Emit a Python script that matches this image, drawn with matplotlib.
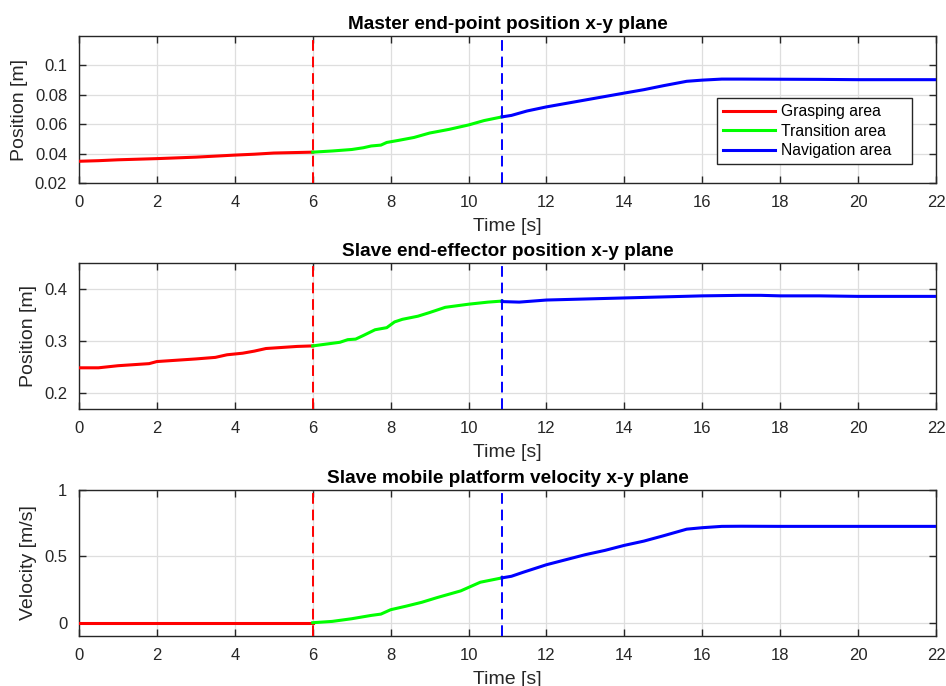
#!/usr/bin/env python3
"""Master / slave x-y plane trajectories split into grasping, transition and navigation areas."""

import matplotlib
matplotlib.use("Agg")
import matplotlib.pyplot as plt

plt.rcParams["font.family"] = ["Liberation Sans", "DejaVu Sans"]

T_SWITCH1 = 6.0
T_SWITCH2 = 10.86

# --- master end-point position ---
t1_grasp = [0, 0.5, 1, 2, 3, 4, 4.5, 5, 5.5, 6]
p1_grasp = [0.0348, 0.0352, 0.0358, 0.0366, 0.0376, 0.0390, 0.0396, 0.0404, 0.0407, 0.0410]
t1_trans = [6, 6.5, 7, 7.3, 7.5, 7.75, 7.9, 8.2, 8.6, 9, 9.5, 10, 10.4, 10.86]
p1_trans = [0.0410, 0.0418, 0.0428, 0.0440, 0.0452, 0.0458, 0.0476, 0.0490, 0.0510, 0.0540, 0.0565, 0.0595, 0.0625, 0.0650]
t1_nav = [10.86, 11.1, 11.5, 12, 13, 14, 14.5, 15, 15.6, 16, 16.5, 17, 18, 19, 20, 22]
p1_nav = [0.0650, 0.0660, 0.0690, 0.0718, 0.0765, 0.0812, 0.0835, 0.0862, 0.0892, 0.0900, 0.0907, 0.0907, 0.0906, 0.0905, 0.0903, 0.0903]

# --- slave end-effector position ---
t2_grasp = [0, 0.5, 1, 1.8, 2, 3, 3.5, 3.8, 4.2, 4.5, 4.8, 5.2, 5.6, 6]
p2_grasp = [0.249, 0.249, 0.253, 0.257, 0.261, 0.266, 0.269, 0.274, 0.277, 0.281, 0.286, 0.288, 0.290, 0.291]
t2_trans = [6, 6.7, 6.9, 7.1, 7.3, 7.6, 7.9, 8.1, 8.3, 8.7, 9, 9.4, 10, 10.5, 10.86]
p2_trans = [0.291, 0.298, 0.303, 0.304, 0.311, 0.322, 0.326, 0.337, 0.342, 0.348, 0.355, 0.365, 0.371, 0.375, 0.377]
t2_nav = [10.86, 11.3, 12, 13, 14, 15, 16, 17, 17.5, 18, 19, 20, 22]
p2_nav = [0.376, 0.375, 0.379, 0.381, 0.383, 0.385, 0.387, 0.388, 0.388, 0.387, 0.387, 0.386, 0.386]

# --- slave mobile platform velocity ---
t3_grasp = [0, 2, 4, 6]
v3_grasp = [0.0, 0.0, 0.0, 0.0]
t3_trans = [6, 6.5, 7, 7.5, 7.75, 8, 8.4, 8.8, 9.2, 9.8, 10.3, 10.86]
v3_trans = [0.0, 0.01, 0.03, 0.055, 0.065, 0.098, 0.125, 0.154, 0.19, 0.24, 0.305, 0.338]
t3_nav = [10.86, 11.1, 11.4, 12, 12.5, 13, 13.5, 14, 14.5, 15, 15.6, 16, 16.5, 17, 18, 20, 22]
v3_nav = [0.338, 0.350, 0.380, 0.437, 0.475, 0.513, 0.545, 0.583, 0.615, 0.655, 0.705, 0.716, 0.726, 0.727, 0.726, 0.726, 0.726]

LEGEND = ["Grasping area", "Transition area", "Navigation area"]
COLORS = ["#ff0000", "#00ff00", "#0000ff"]

panels = [
    dict(title="Master end-point position x-y plane", ylabel="Position [m]",
         segs=[(t1_grasp, p1_grasp), (t1_trans, p1_trans), (t1_nav, p1_nav)],
         ylim=(0.02, 0.12), yticks=[0.02, 0.04, 0.06, 0.08, 0.1],
         yticklabels=["0.02", "0.04", "0.06", "0.08", "0.1"],
         rect=[0.0835, 0.7332, 0.906, 0.2143]),
    dict(title="Slave end-effector position x-y plane", ylabel="Position [m]",
         segs=[(t2_grasp, p2_grasp), (t2_trans, p2_trans), (t2_nav, p2_nav)],
         ylim=(0.17, 0.45), yticks=[0.2, 0.3, 0.4],
         yticklabels=["0.2", "0.3", "0.4"],
         rect=[0.0835, 0.4038, 0.906, 0.2128]),
    dict(title="Slave mobile platform velocity x-y plane", ylabel="Velocity [m/s]",
         segs=[(t3_grasp, v3_grasp), (t3_trans, v3_trans), (t3_nav, v3_nav)],
         ylim=(-0.1, 1.0), yticks=[0, 0.5, 1],
         yticklabels=["0", "0.5", "1"],
         rect=[0.0835, 0.0729, 0.906, 0.2128]),
]

fig = plt.figure(figsize=(9.46, 6.86), dpi=100)

for i, p in enumerate(panels):
    ax = fig.add_axes(p["rect"])
    handles = []
    for (t, v), c, lab in zip(p["segs"], COLORS, LEGEND):
        h, = ax.plot(t, v, color=c, lw=2.2, label=lab, zorder=3)
        handles.append(h)
    ax.axvline(T_SWITCH1, color=COLORS[0], lw=1.4, ls=(0, (5.5, 3)), zorder=4)
    ax.axvline(T_SWITCH2, color=COLORS[2], lw=1.4, ls=(0, (5.5, 3)), zorder=4)

    ax.set_xlim(0, 22)
    ax.set_ylim(*p["ylim"])
    ax.set_xticks(range(0, 23, 2))
    ax.set_yticks(p["yticks"])
    ax.set_yticklabels(p["yticklabels"])
    ax.grid(True, color="#dedede", lw=0.9, zorder=0)
    ax.set_axisbelow(True)
    ax.tick_params(direction="in", top=True, right=True, length=5, width=1,
                   color="#262626", labelsize=12, labelcolor="#262626", pad=8.5)
    for s in ax.spines.values():
        s.set_color("#262626")
        s.set_linewidth(1.0)
    ax.set_title(p["title"], fontsize=13.7, fontweight="bold", pad=5)
    ax.set_xlabel("Time [s]", fontsize=14, color="#262626", labelpad=6)
    ax.set_ylabel(p["ylabel"], fontsize=14, color="#262626", labelpad=5)

    if i == 0:
        leg = ax.legend(handles=handles, loc="upper left", mode="expand",
                        bbox_to_anchor=(0.7445, 0.1224, 0.2275, 0.456),
                        fontsize=11.3, frameon=True, fancybox=False, handlelength=3.3,
                        borderpad=0.4, labelspacing=0.28, handletextpad=0.35,
                        borderaxespad=0)
        leg.get_frame().set_edgecolor("#262626")
        leg.get_frame().set_linewidth(1.0)
        leg.get_frame().set_alpha(1.0)

fig.savefig("out.png", dpi=100)
plt.close(fig)
